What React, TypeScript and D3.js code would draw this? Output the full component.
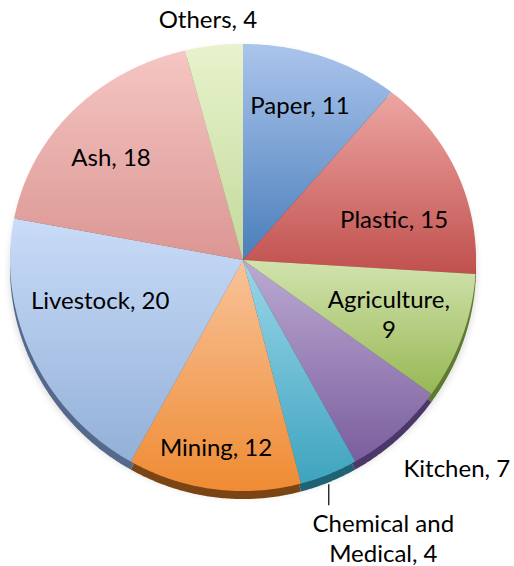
import React from 'react';
import * as d3 from 'd3';

// slices, clockwise from 12 o'clock
const categories = ['Paper', 'Plastic', 'Agriculture', 'Kitchen', 'Chemical and Medical', 'Mining', 'Livestock', 'Ash', 'Others'];
const values = [11, 15, 9, 7, 4, 12, 20, 18, 4];

// top surface gradient (light at top, dark at bottom) and rim colour
const lightColors = ['#abc5ec', '#eda6a3', '#d2e3ae', '#bcaad2', '#9bd6e8', '#f8c39a', '#c9dcf8', '#f5c6c3', '#e8f3cc'];
const darkColors = ['#4a7ebb', '#c0504d', '#97b854', '#7a5e9e', '#3ea4bf', '#ef8b33', '#93b0d8', '#db9693', '#c3d99c'];
const rimColors = ['#2f527d', '#7d302e', '#5e7a30', '#4b3768', '#1f6274', '#7a4512', '#54698c', '#8e5a58', '#7a8c5c'];

// label placement: radius (fraction of pie radius) and angular nudge in degrees
const labelRadius = [0.747, 0.673, 0.673, 1.293, 1.345, 0.831, 0.641, 0.732, 1.125];
const labelTurn = [-0.7, 7.9, 1.7, -3.8, -5, 0.8, 8.3, -3.9, -0.5];
const labelWrap = [false, false, true, false, true, false, false, false, false];
const leaderLine = [false, false, false, false, true, false, false, false, false];

const W = 514;
const H = 566;
const CX = 243;
const CY = 260;
const RX = 233;
const RY = 223.3;
const PERSP = 0.0335;
const DEPTH = 8;
const FONT = 24;
const LINE_H = 30;

// tilted pie projection: angle clockwise from top, r as fraction of radius
const proj = (a: number, r: number): [number, number] => {
  const s = Math.sin(a) * r;
  const u = -Math.cos(a) * r;
  return [CX + RX * s, CY + (RY * u) / (1 - PERSP * u)];
};

const wrapText = (t: string, max: number) => {
  const words = t.split(' ');
  const lines: string[] = [];
  let cur = '';
  words.forEach((w) => {
    const next = cur ? cur + ' ' + w : w;
    if (next.length > max && cur) {
      lines.push(cur);
      cur = w;
    } else cur = next;
  });
  if (cur) lines.push(cur);
  return lines;
};

const App = () => {
  const pie = d3.pie<number>().sort(null).value((d) => d);
  const arcs = pie(values);
  const line = d3.line();

  const slicePath = (a0: number, a1: number, dy = 0) => {
    const n = Math.max(2, Math.ceil(((a1 - a0) * 180) / Math.PI / 0.5));
    const pts: [number, number][] = [[CX, CY + dy]];
    for (let i = 0; i <= n; i++) {
      const [x, y] = proj(a0 + ((a1 - a0) * i) / n, 1);
      pts.push([x, y + dy]);
    }
    return line(pts) + 'Z';
  };

  return (
    <svg
      width={W}
      height={H}
      viewBox={`0 0 ${W} ${H}`}
      style={{ position: 'absolute', left: 0, top: 0, background: '#ffffff' }}
      fontFamily="Lato, 'Open Sans', sans-serif"
    >
      <defs>
        {arcs.map((d, i) => (
          <linearGradient key={i} id={`grad${i}`} x1="0" y1="0" x2="0" y2="1">
            <stop offset="0%" stopColor={lightColors[i]} />
            <stop offset="100%" stopColor={darkColors[i]} />
          </linearGradient>
        ))}
        <filter id="soft" x="-10%" y="-10%" width="120%" height="120%">
          <feGaussianBlur stdDeviation="3" />
        </filter>
      </defs>

      {/* soft shadow under the pie */}
      <ellipse cx={CX} cy={CY + 12} rx={RX + 1} ry={RY + 2} fill="#000" opacity={0.12} filter="url(#soft)" />

      {/* rim (side wall) */}
      {arcs.map((d, i) => (
        <path key={`rim${i}`} d={slicePath(d.startAngle, d.endAngle, DEPTH)} fill={rimColors[i]} />
      ))}

      {/* top surface */}
      {arcs.map((d, i) => (
        <path key={`top${i}`} d={slicePath(d.startAngle, d.endAngle)} fill={`url(#grad${i})`} />
      ))}

      {/* labels */}
      {arcs.map((d, i) => {
        const mid = (d.startAngle + d.endAngle) / 2;
        const [lx, ly] = proj(mid + (labelTurn[i] * Math.PI) / 180, labelRadius[i]);
        const text = `${categories[i]}, ${values[i]}`;
        const lines = labelWrap[i] ? wrapText(text, 13) : [text];
        const firstBase = ly - ((lines.length - 1) * LINE_H) / 2 + 7.5;
        let leader = null;
        if (leaderLine[i]) {
          const [ex, ey] = proj(mid, 1);
          leader = (
            <line x1={ex} x2={ex} y1={ey + DEPTH + 2} y2={firstBase - 27} stroke="#000" strokeWidth={1.2} />
          );
        }
        return (
          <g key={`lab${i}`}>
            {leader}
            <text x={lx} y={firstBase} textAnchor="middle" fontSize={FONT} fill="#000">
              {lines.map((l, j) => (
                <tspan key={j} x={lx} dy={j === 0 ? 0 : LINE_H}>
                  {l}
                </tspan>
              ))}
            </text>
          </g>
        );
      })}
    </svg>
  );
};

export default App;
